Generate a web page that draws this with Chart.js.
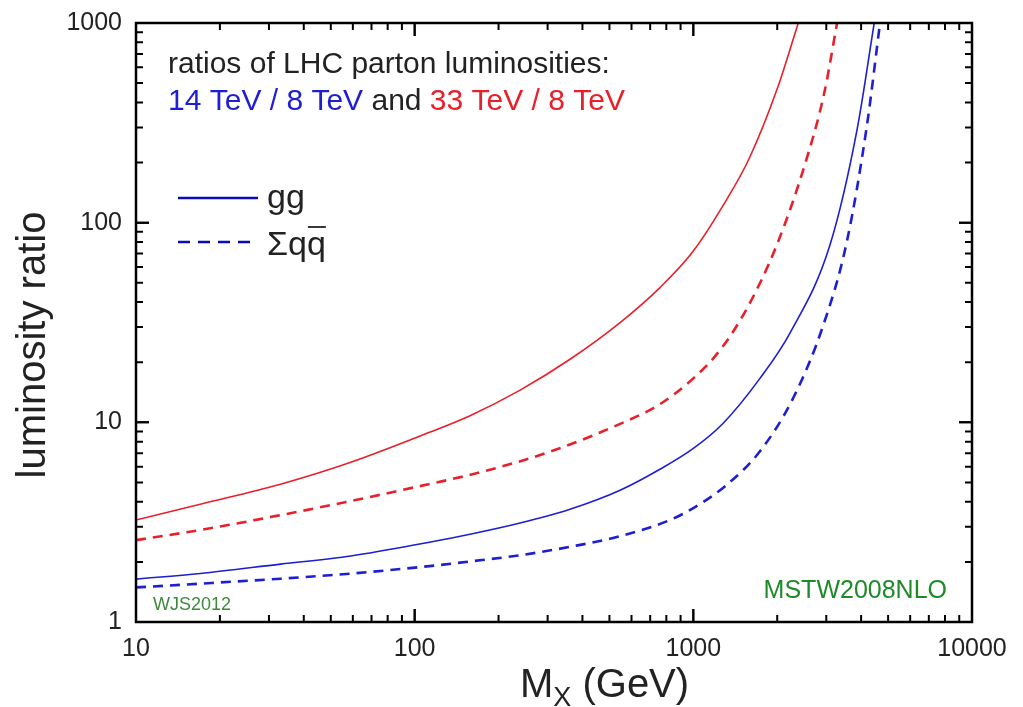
<!DOCTYPE html>
<html>
<head>
<meta charset="utf-8">
<script src="https://cdn.jsdelivr.net/npm/chart.js@4"></script>
<style>
  body { margin: 0; background: #fff; }
</style>
</head>
<body>
<canvas id="lumi" width="1023" height="707"></canvas>
<script>
// values (M_X in GeV, luminosity ratio)
const massGg33 = [10, 17, 33, 59, 113, 158, 239, 361, 546, 759, 1000, 1297, 1585, 2000, 2380];
const ratioGg33 = [3.24, 3.89, 4.90, 6.31, 8.91, 10.8, 14.5, 20.7, 31.6, 47.3, 72.1, 126, 209, 468, 1000];

const massQq33 = [10, 17.8, 31.6, 56.2, 100, 178, 316, 562, 750, 1000, 1259, 1585, 1995, 2512, 2951, 3280];
const ratioQq33 = [2.57, 2.92, 3.39, 3.98, 4.73, 5.69, 7.24, 10.0, 12.2, 16.6, 23.4, 38.9, 77.6, 195, 447, 1000];

const massGg14 = [10, 17, 33, 59, 113, 158, 239, 361, 546, 759, 1000, 1280, 1734, 2222, 3090, 3864, 4457];
const ratioGg14 = [1.64, 1.75, 1.95, 2.14, 2.51, 2.75, 3.13, 3.67, 4.57, 5.82, 7.4, 9.9, 16.6, 28.0, 77, 290, 1000];

const massQq14 = [10, 17, 33, 58.6, 113, 158, 239, 361, 546, 824, 1000, 1300, 1734, 2280, 2925, 3549, 4190, 4677];
const ratioQq14 = [1.49, 1.556, 1.648, 1.746, 1.905, 2.01, 2.16, 2.38, 2.69, 3.24, 3.72, 4.79, 7.16, 13.2, 30.6, 79.4, 302, 1000];

const xTicks = [10, 100, 1000, 10000];
const yTicks = [1, 10, 100, 1000];

const RED = "#e8202a";
const BLUE = "#1e1ed2";
const FONT = "'Liberation Sans', Arial, Helvetica, sans-serif";

function points(xs, ys) {
  return xs.map((x, i) => ({ x: x, y: ys[i] }));
}

function curve(label, xs, ys, color, dashed) {
  return {
    label: label,
    data: points(xs, ys),
    showLine: true,
    borderColor: color,
    backgroundColor: color,
    borderWidth: dashed ? 2.6 : 1.6,
    borderDash: dashed ? [10, 7] : [],
    pointRadius: 0,
    cubicInterpolationMode: "monotone",
    fill: false,
  };
}

// frame, inward ticks, texts
const decorations = {
  id: "decorations",
  afterDraw(chart) {
    const ctx = chart.ctx;
    const a = chart.chartArea;
    const xs = chart.scales.x;
    const ys = chart.scales.y;
    ctx.save();

    ctx.strokeStyle = "#000";
    ctx.lineWidth = 2.5;
    ctx.strokeRect(a.left, a.top, a.right - a.left, a.bottom - a.top);

    ctx.lineWidth = 2;
    for (let d = 10; d < 10000; d *= 10) {
      for (let m = 1; m <= 10; m++) {
        const px = xs.getPixelForValue(d * m);
        const len = m === 1 || m === 10 ? 13 : 7;
        ctx.beginPath();
        ctx.moveTo(px, a.bottom); ctx.lineTo(px, a.bottom - len);
        ctx.moveTo(px, a.top); ctx.lineTo(px, a.top + len);
        ctx.stroke();
      }
    }
    for (let d = 1; d < 1000; d *= 10) {
      for (let m = 1; m <= 10; m++) {
        const py = ys.getPixelForValue(d * m);
        const len = m === 1 || m === 10 ? 13 : 7;
        ctx.beginPath();
        ctx.moveTo(a.left, py); ctx.lineTo(a.left + len, py);
        ctx.moveTo(a.right, py); ctx.lineTo(a.right - len, py);
        ctx.stroke();
      }
    }

    // axis titles
    ctx.fillStyle = "#222";
    ctx.font = "40px " + FONT;
    ctx.textBaseline = "alphabetic";
    ctx.save();
    ctx.translate(45, 345);
    ctx.rotate(-Math.PI / 2);
    ctx.textAlign = "center";
    ctx.fillText("luminosity ratio", 0, 0);
    ctx.restore();

    ctx.textAlign = "left";
    let x = 520;
    ctx.fillText("M", x, 697);
    x += ctx.measureText("M").width;
    ctx.font = "27px " + FONT;
    ctx.fillText("X", x, 706);
    x += ctx.measureText("X").width;
    ctx.font = "40px " + FONT;
    ctx.fillText(" (GeV)", x, 697);

    // header text
    ctx.font = "30px " + FONT;
    ctx.fillStyle = "#222";
    ctx.fillText("ratios of LHC parton luminosities:", 168, 73);
    const parts = [
      ["14 TeV / 8 TeV", BLUE],
      [" and ", "#222"],
      ["33 TeV / 8 TeV", RED],
    ];
    x = 168;
    parts.forEach(([t, c]) => {
      ctx.fillStyle = c;
      ctx.fillText(t, x, 110);
      x += ctx.measureText(t).width;
    });

    // legend
    ctx.strokeStyle = "#0a0ab8";
    ctx.lineWidth = 2.5;
    ctx.beginPath();
    ctx.moveTo(178, 198); ctx.lineTo(258, 198);
    ctx.stroke();
    ctx.setLineDash([12, 8]);
    ctx.beginPath();
    ctx.moveTo(178, 242); ctx.lineTo(252, 242);
    ctx.stroke();
    ctx.setLineDash([]);

    ctx.fillStyle = "#222";
    ctx.font = "34px " + FONT;
    ctx.fillText("gg", 267, 208);
    ctx.fillText("\u03a3q", 267, 255);
    const qx = 267 + ctx.measureText("\u03a3q").width;
    ctx.fillText("q", qx, 255);
    const qw = ctx.measureText("q").width;
    ctx.strokeStyle = "#222";
    ctx.lineWidth = 1.8;
    ctx.beginPath();
    ctx.moveTo(qx + 1, 227); ctx.lineTo(qx + qw, 227);
    ctx.stroke();

    // small labels
    ctx.font = "18px " + FONT;
    ctx.fillStyle = "#3c8a3c";
    ctx.fillText("WJS2012", 153, 610);
    ctx.font = "25px " + FONT;
    ctx.fillStyle = "#1f8a2a";
    ctx.textAlign = "right";
    ctx.fillText("MSTW2008NLO", 947, 598);

    ctx.restore();
  },
};

new Chart(document.getElementById("lumi"), {
  type: "scatter",
  data: {
    datasets: [
      curve("33 TeV / 8 TeV gg", massGg33, ratioGg33, RED, false),
      curve("33 TeV / 8 TeV qq", massQq33, ratioQq33, RED, true),
      curve("14 TeV / 8 TeV gg", massGg14, ratioGg14, BLUE, false),
      curve("14 TeV / 8 TeV qq", massQq14, ratioQq14, BLUE, true),
    ],
  },
  options: {
    responsive: false,
    animation: false,
    layout: { padding: { top: 23, right: 51, left: 0, bottom: 0 } },
    plugins: {
      legend: { display: false },
      tooltip: { enabled: false },
    },
    scales: {
      x: {
        type: "logarithmic",
        min: 10,
        max: 10000,
        grid: { display: false, drawTicks: false },
        border: { display: false },
        afterBuildTicks: (s) => { s.ticks = xTicks.map((v) => ({ value: v })); },
        afterFit: (s) => { s.height = 85; s.paddingLeft = 0; s.paddingRight = 0; },
        ticks: {
          color: "#222",
          padding: 12,
          maxRotation: 0,
          font: { family: FONT, size: 25 },
          callback: (v) => String(v),
        },
      },
      y: {
        type: "logarithmic",
        min: 1,
        max: 1000,
        grid: { display: false, drawTicks: false },
        border: { display: false },
        afterBuildTicks: (s) => { s.ticks = yTicks.map((v) => ({ value: v })); },
        afterFit: (s) => { s.width = 136; s.paddingTop = 0; s.paddingBottom = 0; },
        ticks: {
          color: "#222",
          padding: 14,
          font: { family: FONT, size: 25 },
          callback: (v) => String(v),
        },
      },
    },
  },
  plugins: [decorations],
});
</script>
</body>
</html>
